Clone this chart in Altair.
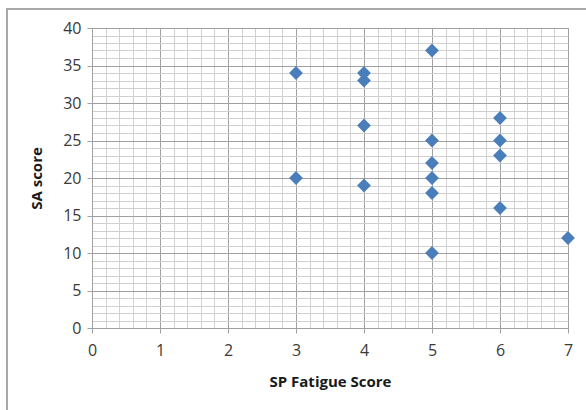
import altair as alt
import pandas as pd

# SP fatigue score vs SA score, one record per participant
fatigue = [3, 3, 4, 4, 4, 4, 5, 5, 5, 5, 5, 5, 6, 6, 6, 6, 7]
sa_score = [34, 20, 34, 33, 27, 19, 37, 25, 22, 20, 18, 10, 28, 25, 23, 16, 12]

# axis tick positions: majors carry labels, minors only draw light grid
x_values = [round(i * 0.2, 1) for i in range(0, 36)]
y_values = list(range(0, 41))

df = pd.DataFrame({"fatigue": fatigue, "sa": sa_score})

FONT = "Open Sans"
MAJOR = "#a0a0a0"
MINOR = "#d0d0d0"

x_axis = alt.Axis(
    values=x_values,
    labelExpr="datum.value % 1 === 0 ? '' + datum.value : ''",
    gridColor={"condition": {"test": "datum.value % 1 === 0", "value": MAJOR}, "value": MINOR},
    tickColor={"condition": {"test": "datum.value % 1 === 0", "value": MAJOR}, "value": "transparent"},
    tickSize=5,
    domainColor=MAJOR,
    labelFont=FONT,
    labelFontSize=16,
    labelColor="#3a3a3a",
    labelPadding=9,
    labelFlush=False,
    labelOverlap=False,
    title="SP Fatigue Score",
    titleFont=FONT,
    titleFontSize=15,
    titleFontWeight="bold",
    titleColor="#1a1a1a",
    titleY=58,
    titleBaseline="alphabetic",
)

y_axis = alt.Axis(
    values=y_values,
    labelExpr="datum.value % 5 === 0 ? datum.label : ''",
    gridColor={"condition": {"test": "datum.value % 5 === 0", "value": MAJOR}, "value": MINOR},
    tickColor={"condition": {"test": "datum.value % 5 === 0", "value": MAJOR}, "value": "transparent"},
    tickSize=5,
    domainColor=MAJOR,
    labelFont=FONT,
    labelFontSize=16,
    labelColor="#3a3a3a",
    labelPadding=6,
    labelOverlap=False,
    title="SA score",
    titleFont=FONT,
    titleFontSize=15,
    titleFontWeight="bold",
    titleColor="#1a1a1a",
    titleX=-56,
    titleBaseline="middle",
)

points = alt.Chart(df).mark_point(
    shape="diamond", filled=True, size=190, color="#4a7ebb", opacity=1
).encode(
    x=alt.X("fatigue:Q", scale=alt.Scale(domain=[0, 7], nice=False), axis=x_axis),
    y=alt.Y("sa:Q", scale=alt.Scale(domain=[0, 40], nice=False), axis=y_axis),
)

# outer chart frame
frame = alt.Chart(df).mark_rect(
    fill=None, stroke="#a8a8a8", strokeWidth=2, clip=False
).encode(
    x=alt.value(-85), x2=alt.value(600),
    y=alt.value(-19), y2=alt.value(500),
)

chart = alt.layer(frame, points).properties(
    width=476,
    height=300,
    autosize=alt.AutoSizeParams(type="none"),
    padding={"left": 92, "top": 28, "right": 18, "bottom": 82},
    background="white",
).configure_view(stroke="#c0c0c0", strokeWidth=1)

chart.save("out.html", embed_options={"renderer": "svg", "actions": False})
